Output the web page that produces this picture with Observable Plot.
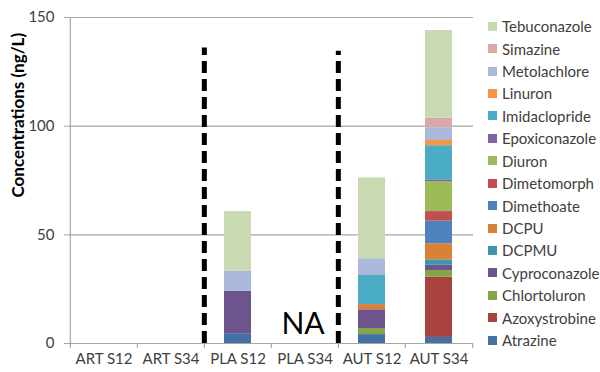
<!DOCTYPE html>
<html><head><meta charset="utf-8">
<script src="https://cdn.jsdelivr.net/npm/d3@7"></script>
<script src="https://cdn.jsdelivr.net/npm/@observablehq/plot@0.6"></script>
<style>
body{margin:0;background:#fff;font-family:Lato,sans-serif}
#wrap{position:relative;width:600px;height:372px;overflow:hidden}
#legend{position:absolute;left:488px;top:15px;font-family:Lato,sans-serif;font-size:15px;color:#404040}
#legend .row{height:22.43px;display:flex;align-items:center;white-space:nowrap}
#legend .sw{width:9px;height:9px;margin-right:5px;flex:none}
</style></head><body><div id="wrap"><div id="legend"></div></div>
<script>
const sites = ["ART S12","ART S34","PLA S12","PLA S34","AUT S12","AUT S34"];
const compounds = ["Atrazine","Azoxystrobine","Chlortoluron","Cyproconazole","DCPMU","DCPU","Dimethoate","Dimetomorph","Diuron","Epoxiconazole","Imidaclopride","Linuron","Metolachlore","Simazine","Tebuconazole"];
const colors = ["#4470A6","#A8423F","#86A44A","#6E548D","#3D96AE","#DA8137","#4F81BD","#C0504D","#9BBB59","#8064A2","#4BACC6","#F79646","#AAB9D9","#DCA8A7","#C9D9B2"];
const plaS12 = [4.5,0,0,19.6,0,0,0,0,0,0,0,0,9.2,0,27.4];
const autS12 = [4.1,0,2.8,8.6,0,2.4,0,0,0,0,13.4,0,7.7,0,37.2];
const autS34 = [2.8,27.7,3.1,2.4,2.5,7.4,10.4,4.4,13.8,0.8,15.7,2.4,5.9,4.4,40.3];
const yTicks = [0,50,100,150];
const gridValues = [50,100,150];
const dividers = [{site:"PLA S12", top:136},{site:"AUT S12", top:134.5}];
const naLabel = {site:"PLA S34", text:"NA"};
const yTitle = "Concentrations (ng/L)";

const rows = [];
[["PLA S12",plaS12],["AUT S12",autS12],["AUT S34",autS34]].forEach(([s,v]) =>
  v.forEach((val,i) => { if (val > 0) rows.push({site:s, compound:compounds[i], value:val}); }));

const W = 600, H = 372, mL = 69, mR = 127, mT = 17, mB = 29;
const step = (W - mL - mR) / sites.length;
const half = step / 2;

const chart = Plot.plot({
  width: W, height: H,
  marginLeft: mL, marginRight: mR, marginTop: mT, marginBottom: mB,
  style: {fontFamily: "Lato, sans-serif", background: "transparent"},
  x: {domain: sites, paddingInner: 0.6, paddingOuter: 0.3, axis: null},
  y: {domain: [0,150], axis: null},
  color: {domain: compounds, range: colors},
  marks: [
    Plot.ruleY(gridValues, {stroke: "#a6a6a6", strokeWidth: 1.2}),
    Plot.ruleY([0], {stroke: "#a6a6a6", strokeWidth: 1.2}),
    Plot.ruleX([sites[0]], {dx: -half, y1: 0, y2: 150, stroke: "#a6a6a6", strokeWidth: 1.2}),
    Plot.ruleX(sites, {x: d => d, dx: -half, y1: 0, y2: 0, insetBottom: -5, stroke: "#a6a6a6", strokeWidth: 1.2}),
    Plot.ruleX([sites[sites.length-1]], {dx: half, y1: 0, y2: 0, insetBottom: -5, stroke: "#a6a6a6", strokeWidth: 1.2}),
    Plot.axisY(yTicks, {tickSize: 5, tickPadding: 10, fontSize: 15, stroke: "#a6a6a6", fill: "#404040", label: null}),
    Plot.axisX({tickSize: 0, tickPadding: 10, fontSize: 15, fill: "#404040", label: null}),
    Plot.barY(rows, {x: "site", y: "value", fill: "compound", order: null}),
    Plot.ruleX(dividers, {x: "site", dx: -half, y1: 0, y2: "top", stroke: "#000", strokeWidth: 5, strokeDasharray: "12,6"}),
    Plot.text([naLabel], {x: "site", y: 0, text: "text", fontSize: 30, fill: "#000", lineAnchor: "bottom", dy: -10, dx: -2}),
    Plot.text([yTitle], {frameAnchor: "left", rotate: -90, dx: -51, dy: 17, fontSize: 17, fontWeight: "bold", fill: "#000"})
  ]
});
const wrap = document.getElementById("wrap");
wrap.insertBefore(chart, wrap.firstChild);

const legend = document.getElementById("legend");
compounds.slice().reverse().forEach(c => {
  const row = document.createElement("div"); row.className = "row";
  const sw = document.createElement("div"); sw.className = "sw";
  sw.style.background = colors[compounds.indexOf(c)];
  const t = document.createElement("span"); t.textContent = c;
  row.appendChild(sw); row.appendChild(t); legend.appendChild(row);
});
</script></body></html>
